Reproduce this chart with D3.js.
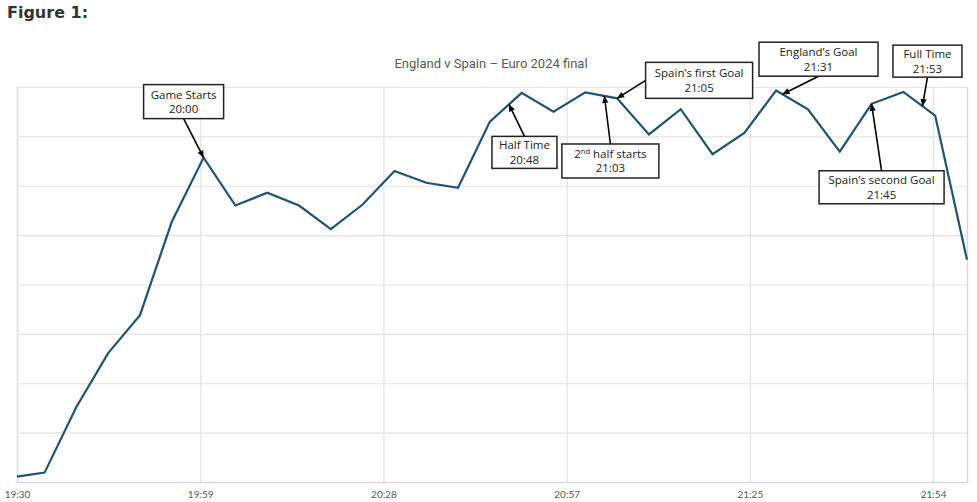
<!DOCTYPE html>
<html>
<head>
<meta charset="utf-8">
<script src="https://cdn.jsdelivr.net/npm/d3@7"></script>
<style>
  body { margin: 0; background: #fff; }
  svg { display: block; }
</style>
</head>
<body>
<div id="chart"></div>
<script>
// viewer level sampled every 5 minutes (y axis carries no labels in the original)
const times = ["19:30:40", "19:35:00", "19:40:00", "19:45:00", "19:50:00", "19:55:00",
  "20:00:00", "20:05:00", "20:10:00", "20:15:00", "20:20:00", "20:25:00", "20:30:00",
  "20:35:00", "20:40:00", "20:45:00", "20:50:00", "20:55:00", "21:00:00", "21:05:00",
  "21:10:00", "21:15:00", "21:20:00", "21:25:00", "21:30:00", "21:35:00", "21:40:00",
  "21:45:00", "21:50:00", "21:55:00", "22:00:00"];
const viewers = [1.1, 1.9, 15.2, 26.1, 33.8, 52.7, 65.7, 56.0, 58.6, 56.0, 51.2, 56.2,
  63.0, 60.6, 59.6, 73.0, 78.8, 75.0, 78.9, 77.7, 70.4, 75.5, 66.4, 70.7, 79.3, 75.5,
  66.9, 76.6, 79.0, 74.2, 45.0];

const tickTimes = ["19:30:40", "19:59:28", "20:28:16", "20:57:04", "21:25:52", "21:54:40"];
const tickLabels = ["19:30", "19:59", "20:28", "20:57", "21:25", "21:54"];

const eventLabels = ["Game Starts", "Half Time", "2nd half starts", "Spain\u2019s first Goal",
  "England\u2019s Goal", "Spain\u2019s second Goal", "Full Time"];
const eventTimes = ["20:00", "20:48", "21:03", "21:05", "21:31", "21:45", "21:53"];

// where each callout box sits relative to the point it points at
const calloutLayout = [
  { dx: -20, dy: -56, w: 80, h: 34, anchor: "bottom" },
  { dx: 15.5, dy: 48, w: 65, h: 32, anchor: "top" },
  { dx: 6, dy: 65, w: 97, h: 34, anchor: "top" },
  { dx: 82, dy: -18, w: 107, h: 36, anchor: "left" },
  { dx: 36, dy: -35, w: 119, h: 34, anchor: "bottom" },
  { dx: 10, dy: 83.5, w: 125, h: 33, anchor: "top" },
  { dx: 5, dy: -45, w: 69, h: 32, anchor: "bottom" }
];

const W = 977, H = 502;
const margin = { top: 87, right: 10, bottom: 20, left: 17 };
const parseT = d3.timeParse("%H:%M:%S");

let data = times.map(function(t, i) { return { t: parseT(t), v: viewers[i] }; });

let svg = d3.select("#chart").append("svg")
  .attr("width", W).attr("height", H);

svg.append("text")
  .attr("x", 7).attr("y", 18)
  .style("font-family", "DejaVu Sans, sans-serif")
  .style("font-weight", "bold").style("font-size", "16px")
  .attr("fill", "#333")
  .text("Figure 1:");

let x = d3.scaleTime()
  .domain(d3.extent(data, function(d) { return d.t; }))
  .range([margin.left, W - margin.right]);
let y = d3.scaleLinear()
  .domain([0, 80])
  .range([H - margin.bottom, margin.top]);

svg.append("text")
  .attr("x", 491).attr("y", 68)
  .attr("text-anchor", "middle")
  .style("font-family", "Roboto, sans-serif").style("font-size", "13px")
  .attr("fill", "#595959")
  .text("England v Spain \u2013 Euro 2024 final");

// horizontal gridlines
svg.append("g")
  .attr("transform", "translate(" + margin.left + ",0)")
  .call(d3.axisLeft(y).tickValues(d3.range(0, 90, 10)).tickSize(-(W - margin.left - margin.right)).tickFormat(""))
  .call(function(g) {
    g.select(".domain").remove();
    g.selectAll(".tick line").attr("stroke", "#e3e3e3").attr("stroke-width", 1.2);
  });

// vertical gridlines + time labels
svg.append("g")
  .attr("transform", "translate(0," + (H - margin.bottom) + ")")
  .call(d3.axisBottom(x)
    .tickValues(tickTimes.map(parseT))
    .tickSize(-(H - margin.top - margin.bottom))
    .tickPadding(9)
    .tickFormat(function(d, i) { return tickLabels[i]; }))
  .call(function(g) {
    g.select(".domain").attr("stroke", "#d9d9d9").attr("stroke-width", 1.5);
    g.selectAll(".tick line").attr("stroke", "#e3e3e3").attr("stroke-width", 1.2);
    g.selectAll(".tick text")
      .style("font-family", "Lato, sans-serif").style("font-size", "10px")
      .attr("fill", "#595959");
  });

let line = d3.line()
  .x(function(d) { return x(d.t); })
  .y(function(d) { return y(d.v); });

svg.append("path")
  .datum(data)
  .attr("fill", "none")
  .attr("stroke", "#1f5274")
  .attr("stroke-width", 2.2)
  .attr("stroke-linejoin", "miter")
  .attr("d", line);

// arrowhead
svg.append("defs").append("marker")
  .attr("id", "arrow")
  .attr("viewBox", "0 0 10 10")
  .attr("refX", 10).attr("refY", 5)
  .attr("markerUnits", "userSpaceOnUse")
  .attr("markerWidth", 8).attr("markerHeight", 7)
  .attr("orient", "auto")
  .append("path").attr("d", "M0,0.5L10,5L0,9.5z").attr("fill", "#000");

// value on the line at a given clock time
let bisect = d3.bisector(function(d) { return d.t; }).left;
function valueAt(t) {
  let i = bisect(data, t);
  if (i <= 0) return data[0].v;
  let a = data[i - 1], b = data[i];
  let f = (t - a.t) / (b.t - a.t);
  return a.v + f * (b.v - a.v);
}

let callouts = svg.append("g").attr("class", "callouts");

for (let i = 0; i < eventLabels.length; i++) {
  let t = parseT(eventTimes[i] + ":00");
  let tx = x(t), ty = y(valueAt(t));
  let lay = calloutLayout[i];
  let cx = tx + lay.dx, cy = ty + lay.dy;

  let ax = cx, ay = cy;
  if (lay.anchor === "top") ay = cy - lay.h / 2;
  if (lay.anchor === "bottom") ay = cy + lay.h / 2;
  if (lay.anchor === "left") ax = cx - lay.w / 2;

  callouts.append("line")
    .attr("x1", ax).attr("y1", ay)
    .attr("x2", tx).attr("y2", ty)
    .attr("stroke", "#000").attr("stroke-width", 1.6)
    .attr("marker-end", "url(#arrow)");

  callouts.append("rect")
    .attr("x", cx - lay.w / 2).attr("y", cy - lay.h / 2)
    .attr("width", lay.w).attr("height", lay.h)
    .attr("fill", "#fff").attr("stroke", "#222").attr("stroke-width", 1.5);

  let txt = callouts.append("text")
    .attr("text-anchor", "middle")
    .style("font-family", "Open Sans, sans-serif").style("font-size", "11.5px")
    .attr("fill", "#222");

  let first = txt.append("tspan").attr("x", cx).attr("y", cy - 3);
  let m = eventLabels[i].match(/^(\d)(nd|st|rd|th)(.*)$/);
  if (m) {
    first.text(m[1]);
    txt.append("tspan").attr("dy", -4).style("font-size", "7.5px").text(m[2]);
    txt.append("tspan").attr("dy", 4).text(m[3]);
  } else {
    first.text(eventLabels[i]);
  }
  txt.append("tspan").attr("x", cx).attr("y", cy + 11.5).text(eventTimes[i]);
}
</script>
</body>
</html>
